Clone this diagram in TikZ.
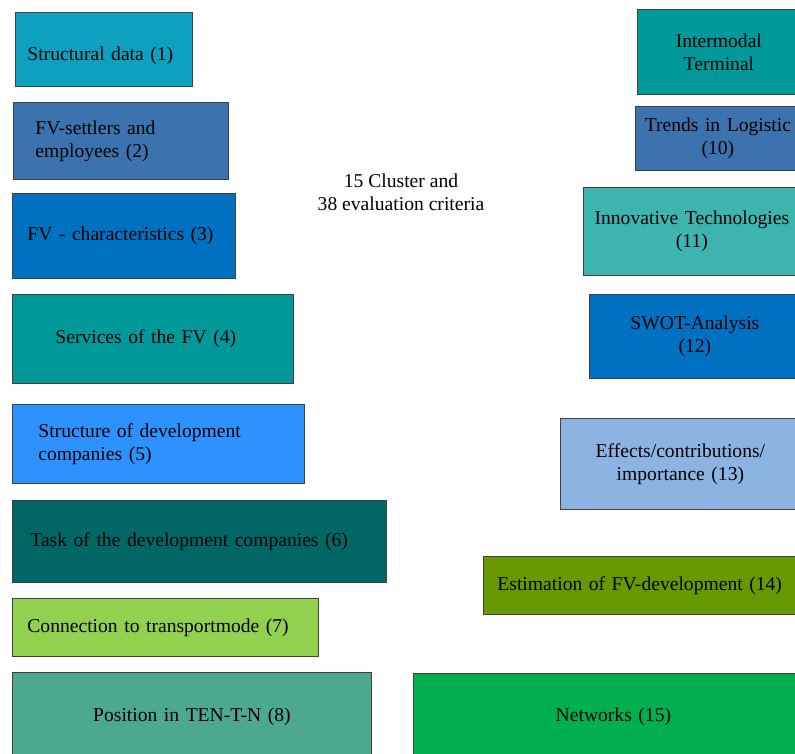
\documentclass[tikz,border=0pt]{standalone}
\usepackage{fontspec}
\setmainfont{Liberation Serif}
\usetikzlibrary{positioning}
\definecolor{cyanblue}{RGB}{13,160,192}
\definecolor{steel}{RGB}{60,115,175}
\definecolor{royal}{RGB}{0,112,192}
\definecolor{teal}{RGB}{0,153,153}
\definecolor{sky}{RGB}{45,145,255}
\definecolor{deepteal}{RGB}{0,102,102}
\definecolor{lime}{RGB}{146,208,80}
\definecolor{seagreen}{RGB}{76,168,143}
\definecolor{aqua}{RGB}{61,180,176}
\definecolor{paleblue}{RGB}{141,179,226}
\definecolor{olive}{RGB}{102,153,0}
\definecolor{grass}{RGB}{0,176,80}
\tikzset{
  crit/.style={draw=black!75,line width=0.8pt,fill=#1,anchor=north west,
    inner ysep=0pt,align=left,text=black,font=\fontsize{19.6}{23}\selectfont},
  crit/.default=teal,
  mid/.style={align=center},
}

\begin{document}
\begin{tikzpicture}[x=1pt,y=1pt]
    \clip (0,0) rectangle (795,-754);
    % left column
    \node[crit=cyanblue,minimum width=177,minimum height=74,inner xsep=12,text width=153,text height=48,text depth=26] (c1) at (15,-12) {Structural data (1)};
    \node[crit=steel,minimum width=215,minimum height=77,inner xsep=22,text width=171] (c2) at (13,-102) {FV-settlers and\\employees (2)};
    \node[crit=royal,minimum width=223,minimum height=85,inner xsep=15,text width=193] (c3) at (12,-193) {FV - characteristics (3)};
    \node[crit=teal,minimum width=281,minimum height=89,inner xsep=43,text width=195] (c4) at (12,-294) {Services of the FV (4)};
    \node[crit=sky,minimum width=292,minimum height=79,inner xsep=26,text width=240] (c5) at (12,-404) {Structure of development\\companies (5)};
    \node[crit=deepteal,minimum width=374,minimum height=82,inner xsep=18,text width=338] (c6) at (12,-500) {Task of the development companies (6)};
    \node[crit=lime,minimum width=306,minimum height=58,inner xsep=15,text width=276] (c7) at (12,-598) {Connection to transportmode (7)};
    \node[crit=seagreen,mid,minimum width=359,minimum height=88,inner xsep=10,text width=339] (c8) at (12,-672) {Position in TEN-T-N (8)};
    % right column
    \node[crit=teal,mid,minimum width=163,minimum height=85,inner xsep=5,text width=153] (c9) at (637,-9) {Intermodal\\Terminal};
    \node[crit=steel,mid,minimum width=165,minimum height=64,inner xsep=5,text width=155] (c10) at (635,-106) {Trends in Logistic\\(10)};
    \node[crit=aqua,mid,minimum width=217,minimum height=88,inner xsep=5,text width=207] (c11) at (583,-187) {Innovative Technologies\\(11)};
    \node[crit=royal,mid,minimum width=211,minimum height=84,inner xsep=5,text width=201] (c12) at (589,-294) {SWOT-Analysis\\(12)};
    \node[crit=paleblue,mid,minimum width=240,minimum height=91,inner xsep=5,text width=230] (c13) at (560,-418) {Effects/contributions/\\importance (13)};
    \node[crit=olive,minimum width=330,minimum height=58,inner xsep=14,text width=302] (c14) at (483,-556) {Estimation of FV-development (14)};
    \node[crit=grass,mid,minimum width=400,minimum height=87,inner xsep=10,text width=380] (c15) at (413,-673) {Networks (15)};
    \node[align=center,font=\fontsize{19.6}{23}\selectfont] (total) at (401,-192) {15 Cluster and\\38 evaluation criteria};
\end{tikzpicture}
\end{document}
